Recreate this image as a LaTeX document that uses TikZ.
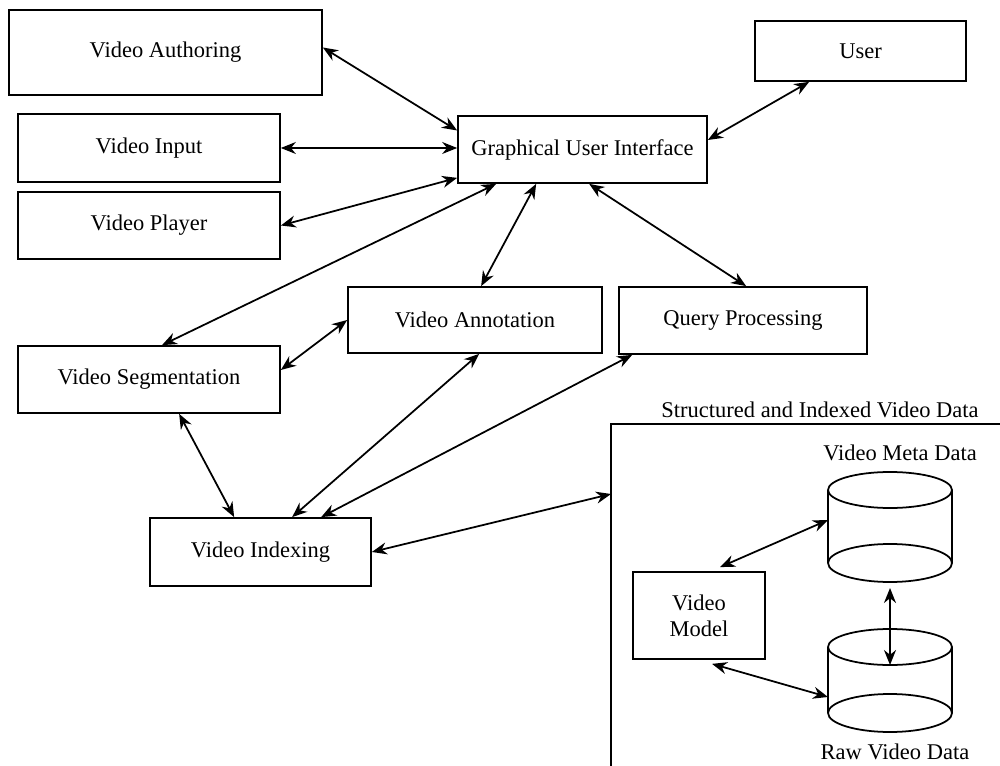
\documentclass[tikz,border=0pt]{standalone}
\usepackage{fontspec}
\setmainfont{Liberation Serif}
\usetikzlibrary{calc,arrows.meta}

\tikzset{
	box/.style={draw, line width=1pt, inner sep=0pt, align=center, font=\fontsize{12.8}{15}\selectfont},
	lbl/.style={inner sep=0pt, font=\fontsize{12.8}{15}\selectfont},
	link/.style={line width=1pt, {Stealth[length=3mm,width=2.4mm]}-{Stealth[length=3mm,width=2.4mm]}}
}

\begin{document}
\begin{tikzpicture}[x=0.02cm,y=-0.02cm]
				\useasboundingbox (0,0) rectangle (1000,766);
				\clip (0,0) rectangle (1000,766);
				
				\node[box, minimum width=6.26cm, minimum height=1.70cm] (auth) at (165.5,52.5) {Video Authoring};
				\node[box, minimum width=5.24cm, minimum height=1.36cm] (input) at (149,148) {Video Input};
				\node[box, minimum width=5.24cm, minimum height=1.34cm] (player) at (149,225.5) {Video Player};
				\node[box, minimum width=4.98cm, minimum height=1.34cm] (gui) at (582.5,149.5) {Graphical User Interface};
				\node[box, minimum width=4.22cm, minimum height=1.20cm] (user) at (860.5,51) {User};
				\node[box, minimum width=5.08cm, minimum height=1.32cm] (annot) at (475,320) {Video Annotation};
				\node[box, minimum width=4.96cm, minimum height=1.34cm] (query) at (743,320.5) {Query Processing};
				\node[box, minimum width=5.24cm, minimum height=1.34cm] (seg) at (149,379.5) {Video Segmentation};
				\node[box, minimum width=4.42cm, minimum height=1.36cm] (index) at (260.5,552) {Video Indexing};
				
				% stored data
				\coordinate (store) at (611,424);
				\draw[line width=1pt] (store) rectangle (1010,780);
				\node[lbl] (storetitle) at (820,410) {Structured and Indexed Video Data};
				\node[box, minimum width=2.64cm, minimum height=1.74cm] (model) at (699,615.5) {Video\\Model};
				
				\coordinate (meta) at (890,490);
				\coordinate (raw) at (890,647);
				\foreach \c/\d in {meta/73,raw/66}{
					\draw[line width=1pt] (\c) ellipse [x radius=1.24cm, y radius=0.36cm];
					\draw[line width=1pt] ($(\c)+(0,\d)$) ellipse [x radius=1.24cm, y radius=0.38cm];
					\draw[line width=1pt] ($(\c)+(-62,0)$) -- ($(\c)+(-62,\d)$);
					\draw[line width=1pt] ($(\c)+(62,0)$) -- ($(\c)+(62,\d)$);}
				\node[lbl] (metatitle) at (900,453) {Video Meta Data};
				\node[lbl] (rawtitle) at (895,752) {Raw Video Data};
				
				% links to the interface
				\draw[link] ($(auth.east)+(0,-5)$) -- ($(gui.west)+(0,-19)$);
				\draw[link] (input.east) -- (input.east -| gui.west);
				\draw[link] (player.east) -- ($(gui.south west)+(0,-6)$);
				\draw[link] ($(seg.north)+(13,0)$) -- ($(gui.south west)+(39,0)$);
				\draw[link] ($(annot.north west)+(134,0)$) -- ($(gui.south west)+(79,0)$);
				\draw[link] ($(query.north west)+(128,0)$) -- ($(gui.south west)+(132,0)$);
				\draw[link] ($(user.south west)+(55,0)$) -- ($(gui.east)+(0,-9.5)$);
				
				% links to the indexing
				\draw[link] ($(seg.east)+(0,-9.5)$) -- (annot.west);
				\draw[link] ($(seg.south west)+(162,0)$) -- ($(index.north west)+(85,0)$);
				\draw[link] ($(annot.south west)+(132,0)$) -- ($(index.north west)+(143,0)$);
				\draw[link] ($(query.south west)+(14,0)$) -- ($(index.north west)+(172,0)$);
				\draw[link] (index.east) -- ($(store)+(0,70)$);
				
				% inside the data box
				\draw[link] ($(model.north)+(21,-4)$) -- ($(meta)+(-62,30)$);
				\draw[link] ($(model.south)+(13,4)$) -- ($(raw)+(-62,50)$);
				\draw[link] ($(meta)+(0,98)$) -- ($(raw)+(0,18)$);
			\end{tikzpicture}
\end{document}
